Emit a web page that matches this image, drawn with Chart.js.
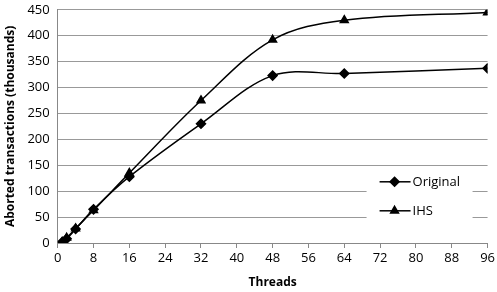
<!DOCTYPE html>
<meta charset="UTF-8" />
<style>
  html, body { margin: 0; padding: 0; background: #fff; overflow: hidden; }
  #box { width: 497px; height: 292px; overflow: hidden; }
  #myChart { display: block; margin-top: -6px; }
</style>
<div id="box">
  <canvas id="myChart"></canvas>
</div>
<script src="https://cdn.jsdelivr.net/npm/chart.js@4"></script>
<script>
// data
const threads = [1, 2, 4, 8, 16, 32, 48, 64, 96];
const original = [2, 8, 27, 65, 128, 230, 323, 327, 337];
const ihs = [2, 10, 28, 63, 135, 275, 392, 430, 445];
const xTicks = [0, 8, 16, 24, 32, 40, 48, 56, 64, 72, 80, 88, 96];

const fontFam = "'Open Sans', 'DejaVu Sans', sans-serif";

function pts(ys) {
  return threads.map(function (x, i) { return { x: x, y: ys[i] }; });
}

// legend drawn inside the plot, Excel style (line + marker)
const boxLegend = {
  id: "boxLegend",
  afterDraw: function (chart) {
    var ctx = chart.ctx;
    var a = chart.chartArea;
    var left = a.right - 121, top = a.top + 158;
    ctx.save();
    ctx.fillStyle = "#fff";
    ctx.fillRect(left, top, 106, 56);
    var items = [["Original", "rectRot"], ["IHS", "triangle"]];
    items.forEach(function (it, i) {
      var y = top + 14 + i * 29;
      ctx.strokeStyle = "#000";
      ctx.fillStyle = "#000";
      ctx.lineWidth = 1.5;
      ctx.beginPath();
      ctx.moveTo(left + 13, y);
      ctx.lineTo(left + 44, y);
      ctx.stroke();
      Chart.helpers.drawPoint(ctx, { pointStyle: it[1], radius: 4.5, borderWidth: 1 }, left + 28, y);
      ctx.fillStyle = "#000";
      ctx.font = "13px " + fontFam;
      ctx.textBaseline = "middle";
      ctx.fillText(it[0], left + 46, y);
    });
    ctx.restore();
  }
};

const data = {
  datasets: [
    {
      label: "Original",
      data: pts(original),
      borderColor: "#000",
      backgroundColor: "#000",
      borderWidth: 1.5,
      pointStyle: "rectRot",
      pointRadius: 4.5,
      tension: 0.35
    },
    {
      label: "IHS",
      data: pts(ihs),
      borderColor: "#000",
      backgroundColor: "#000",
      borderWidth: 1.5,
      pointStyle: "triangle",
      pointRadius: 4.5,
      tension: 0.35
    }
  ]
};

const config = {
  type: "line",
  data: data,
  options: {
    responsive: false,
    animation: false,
    layout: { padding: { top: 0, right: 8, left: 3, bottom: 2 } },
    plugins: {
      legend: { display: false },
      tooltip: { enabled: false }
    },
    scales: {
      x: {
        type: "linear",
        min: 0,
        max: 96,
        afterBuildTicks: function (axis) {
          axis.ticks = xTicks.map(function (v) { return { value: v }; });
        },
        grid: {
          drawOnChartArea: false,
          drawTicks: true,
          tickLength: 5,
          color: "#888"
        },
        border: { color: "#888", width: 1 },
        ticks: { color: "#000", font: { family: fontFam, size: 13 }, padding: 2, maxRotation: 0 },
        title: {
          display: true,
          text: "Threads",
          color: "#000",
          font: { family: fontFam, size: 12, weight: "bold" },
          padding: { top: 8, bottom: 0 }
        }
      },
      y: {
        min: 0,
        max: 450,
        ticks: { stepSize: 50, color: "#000", font: { family: fontFam, size: 13 }, padding: 8 },
        grid: { color: "#999", drawTicks: false },
        border: { color: "#888", width: 1 },
        title: {
          display: true,
          text: "Aborted transactions (thousands)",
          color: "#000",
          font: { family: fontFam, size: 12, weight: "bold" },
          padding: { top: 0, bottom: 2 }
        }
      }
    }
  },
  plugins: [boxLegend]
};

var cv = document.getElementById("myChart");
cv.width = 497;
cv.height = 298;
var myChart = new Chart(cv, config);
</script>
